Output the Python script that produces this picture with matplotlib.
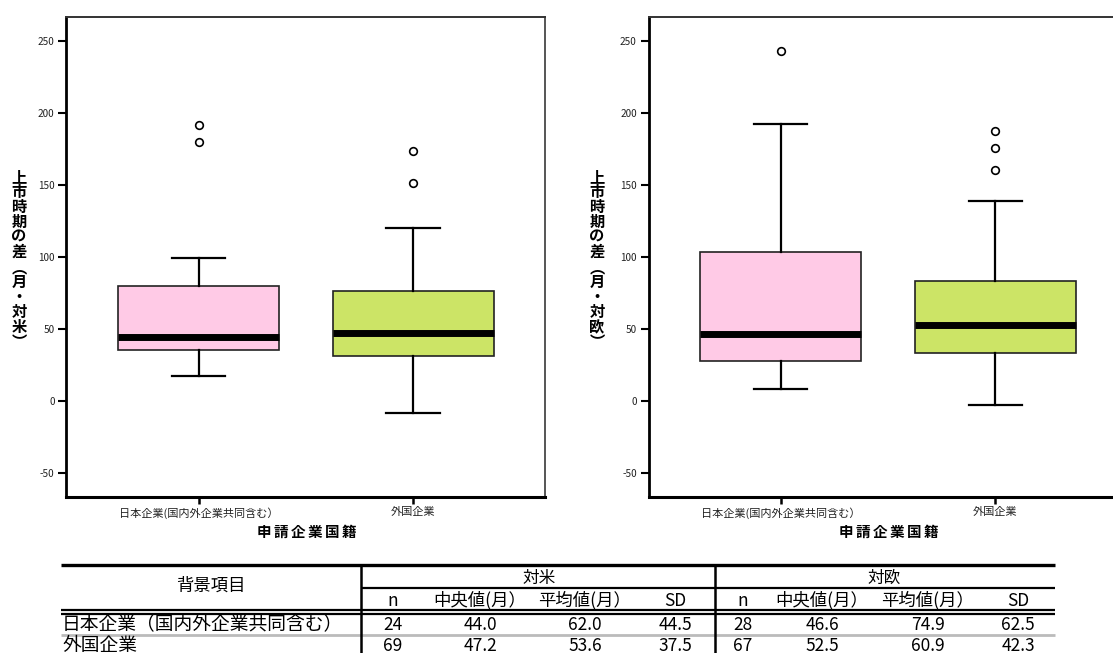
import matplotlib
matplotlib.use("Agg")
import matplotlib.pyplot as plt
from matplotlib.lines import Line2D

plt.rcParams["font.family"] = ["Noto Sans CJK JP", "DejaVu Sans"]
plt.rcParams["axes.unicode_minus"] = False

W, H = 1113, 653

# box plot data (months)
GROUPS = ["日本企業(国内外企業共同含む）", "外国企業"]
US_WHISLO = [17, -8.5]
US_Q1 = [35, 31]
US_MED = [44.0, 47.2]
US_Q3 = [80, 76]
US_WHISHI = [99, 120]
US_FLIERS = [[180, 191.5], [151.5, 173.5]]

EU_WHISLO = [8, -3]
EU_Q1 = [27.5, 33.2]
EU_MED = [46.6, 52.5]
EU_Q3 = [103.7, 83]
EU_WHISHI = [192.5, 139]
EU_FLIERS = [[243], [160.5, 175.5, 187.5]]

YTICKS = [-50, 0, 50, 100, 150, 200, 250]
BOX_COLORS = ["#FFCAE6", "#CCE466"]

# summary table
TABLE_ROWS = ["日本企業（国内外企業共同含む）", "外国企業"]
TABLE_COLS = ["n", "中央値(月）", "平均値(月）", "SD"]
US_N = [24, 69]
US_MEDIAN = [44.0, 47.2]
US_MEAN = [62.0, 53.6]
US_SD = [44.5, 37.5]
EU_N = [28, 67]
EU_MEDIAN = [46.6, 52.5]
EU_MEAN = [74.9, 60.9]
EU_SD = [62.5, 42.3]


def fx(px):
    return px / W


def fy(py):
    return 1 - py / H


def stacked_text(fig, cx, cy, s, pitch, vertical, **kw):
    """Place characters one by one (vertical writing or letter-spaced)."""
    n = len(s)
    for i, ch in enumerate(s):
        off = (i - (n - 1) / 2) * pitch
        if vertical:
            fig.text(fx(cx), fy(cy + off), ch, ha="center", va="center", **kw)
        else:
            fig.text(fx(cx + off), fy(cy), ch, ha="center", va="center", **kw)


def draw_panel(fig, left_px, whislo, q1, med, q3, whishi, fliers, ylabel, ylabel_x):
    ax = fig.add_axes([fx(left_px), fy(496.7), 479 / W, (496.7 - 17.3) / H])
    stats = [
        dict(whislo=whislo[i], q1=q1[i], med=med[i], q3=q3[i], whishi=whishi[i],
             fliers=fliers[i], label=GROUPS[i])
        for i in range(len(GROUPS))
    ]
    bp = ax.bxp(
        stats, positions=[1, 2], widths=0.75, patch_artist=True, capwidths=0.25,
        boxprops=dict(edgecolor="#222222", linewidth=1.2),
        whiskerprops=dict(color="black", linewidth=1.6),
        capprops=dict(color="black", linewidth=1.6),
        medianprops=dict(color="black", linewidth=5.0, solid_capstyle="butt"),
        flierprops=dict(marker="o", markersize=5.5, markerfacecolor="white",
                        markeredgecolor="black", markeredgewidth=1.2),
    )
    for patch, c in zip(bp["boxes"], BOX_COLORS):
        patch.set_facecolor(c)

    ax.set_xlim(0.385, 2.615)
    ax.set_ylim(-66.7, 266.5)
    ax.set_yticks(YTICKS)
    ax.set_xticks([1, 2])
    ax.set_xticklabels(GROUPS, fontsize=8, color="#222222")
    ax.tick_params(axis="y", direction="out", length=6, width=1.5,
                   labelsize=7.2, pad=2.5, labelcolor="#222222")
    ax.tick_params(axis="x", direction="out", length=5, width=1.8, pad=2.5)

    ax.spines["left"].set_linewidth(2.0)
    ax.spines["bottom"].set_linewidth(2.2)
    ax.spines["top"].set_linewidth(1.4)
    ax.spines["top"].set_color("#333333")
    ax.spines["right"].set_linewidth(1.4)
    ax.spines["right"].set_color("#555555")

    stacked_text(fig, ylabel_x, 259.5, ylabel, 15, True,
                 fontsize=11, fontweight="bold")
    stacked_text(fig, left_px + 240, 532, "申請企業国籍", 17, False,
                 fontsize=10.5, fontweight="bold")
    return ax


def hline(fig, y, x0, x1, lw, color="black"):
    fig.add_artist(Line2D([fx(x0), fx(x1)], [fy(y), fy(y)], lw=lw, color=color,
                          solid_capstyle="butt"))


def vline(fig, x, y0, y1, lw, color="black"):
    fig.add_artist(Line2D([fx(x), fx(x)], [fy(y0), fy(y1)], lw=lw, color=color,
                          solid_capstyle="butt"))


def main():
    fig = plt.figure(figsize=(W / 100, H / 100), dpi=100, facecolor="white")

    draw_panel(fig, 66.4, US_WHISLO, US_Q1, US_MED, US_Q3, US_WHISHI, US_FLIERS,
               "上市時期の差︵月・対米︶", 19)
    draw_panel(fig, 648.5, EU_WHISLO, EU_Q1, EU_MED, EU_Q3, EU_WHISHI, EU_FLIERS,
               "上市時期の差︵月・対欧︶", 597)

    # table rules
    tl, tr = 61, 1055
    hline(fig, 565, tl, tr, 2.4)
    hline(fig, 588, 361, tr, 1.6)
    hline(fig, 610, tl, tr, 1.6)
    hline(fig, 613.5, tl, tr, 1.6)
    hline(fig, 634.5, tl, tr, 2.0, color="#BBBBBB")
    vline(fig, 361, 565, 660, 1.8)
    vline(fig, 714.5, 565, 660, 1.8)

    tkw = dict(fontsize=12.5, ha="center", va="center", color="black")
    fig.text(fx(211), fy(586), "背景項目", **tkw)
    fig.text(fx(539), fy(578), "対米", fontsize=12, ha="center", va="center")
    fig.text(fx(884.5), fy(578), "対欧", fontsize=12, ha="center", va="center")

    us_x = [393, 480, 585, 675]
    eu_x = [743, 822, 928, 1018]
    for x, c in zip(us_x + eu_x, TABLE_COLS + TABLE_COLS):
        fig.text(fx(x), fy(600.5), c, **tkw)

    row_y = [624.5, 646]
    for i, label in enumerate(TABLE_ROWS):
        y = row_y[i]
        fig.text(fx(62), fy(y), label, fontsize=13.5, ha="left", va="center")
        us_vals = [f"{US_N[i]}", f"{US_MEDIAN[i]:.1f}", f"{US_MEAN[i]:.1f}", f"{US_SD[i]:.1f}"]
        eu_vals = [f"{EU_N[i]}", f"{EU_MEDIAN[i]:.1f}", f"{EU_MEAN[i]:.1f}", f"{EU_SD[i]:.1f}"]
        for x, v in zip(us_x + eu_x, us_vals + eu_vals):
            fig.text(fx(x), fy(y), v, **tkw)

    fig.savefig("out.png", dpi=100, facecolor="white")
    plt.close(fig)


if __name__ == "__main__":
    main()
